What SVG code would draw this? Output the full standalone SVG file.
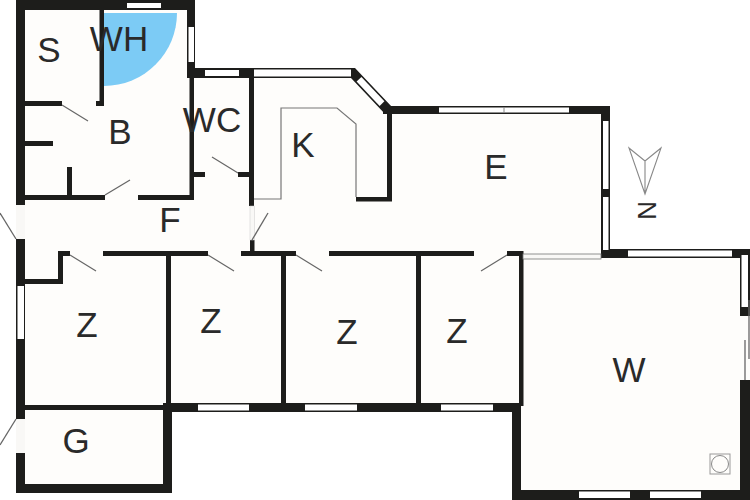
<svg xmlns="http://www.w3.org/2000/svg" width="750" height="500" viewBox="0 0 750 500">
<style>
.w{fill:#1d1d1b}
.g{fill:#fff}
.o{fill:#f9f8f6}
.d{fill:none;stroke:#666;stroke-width:1.3}
.t{fill:none;stroke:#777;stroke-width:1.2}
.l{font-family:"Liberation Sans",Arial,sans-serif;font-size:35px;fill:#2a2a2a;text-anchor:middle}
</style>
<rect width="750" height="500" fill="#fff"/>
<path d="M16 0H195V70H355L390 106H610V250H750V500H512V412H172V493H16Z" fill="#fefdfb"/>
<path d="M104 13H177A73 73 0 0 1 104 86Z" fill="#7ccbf5"/>
<g id="walls">
<rect class="w" x="16" y="0" width="179" height="10"/>
<rect class="w" x="16" y="0" width="9" height="205"/>
<rect class="w" x="16" y="239" width="9" height="180"/>
<rect class="w" x="16" y="453" width="9" height="40"/>
<rect class="w" x="16" y="484" width="156" height="9"/>
<rect class="w" x="163" y="405" width="9" height="88"/>
<rect class="w" x="25" y="405" width="140" height="5"/>
<rect class="w" x="163" y="403" width="357" height="9"/>
<rect class="w" x="512" y="406" width="9" height="94"/>
<rect class="w" x="512" y="490" width="238" height="10"/>
<rect class="w" x="740" y="380" width="10" height="120"/>
<rect class="w" x="740" y="249" width="10" height="67"/>
<rect class="w" x="601" y="249" width="149" height="9"/>
<rect class="w" x="601" y="106" width="9" height="152"/>
<rect class="w" x="383" y="106" width="227" height="8"/>
<rect class="w" x="519" y="251" width="4.500" height="155"/>
<rect class="w" x="507" y="251" width="16" height="5"/>
<rect class="w" x="187" y="0" width="8" height="78"/>
<rect class="w" x="187" y="68" width="67" height="10"/>
<rect class="w" x="189.500" y="78" width="4.500" height="122"/>
<rect class="w" x="25" y="195" width="80" height="5"/>
<rect class="w" x="138" y="195" width="56" height="5"/>
<rect class="w" x="99.500" y="10" width="4.500" height="96"/>
<rect class="w" x="96" y="101" width="8" height="5"/>
<rect class="w" x="25" y="101" width="37" height="5"/>
<rect class="w" x="25" y="141" width="28" height="5"/>
<rect class="w" x="67" y="167" width="5" height="28"/>
<rect class="w" x="194" y="172" width="11" height="5"/>
<rect class="w" x="238" y="172" width="11" height="5"/>
<rect class="w" x="249" y="68" width="5" height="138"/>
<rect class="w" x="250" y="240" width="4.500" height="14"/>
<rect class="w" x="241" y="251" width="55" height="5"/>
<rect class="w" x="58" y="251" width="12" height="5"/>
<rect class="w" x="103" y="251" width="105" height="5"/>
<rect class="w" x="329" y="251" width="145" height="5"/>
<rect class="w" x="58" y="251" width="5" height="33"/>
<rect class="w" x="25" y="279" width="38" height="5"/>
<rect class="w" x="166" y="256" width="5" height="149"/>
<rect class="w" x="281" y="256" width="5" height="149"/>
<rect class="w" x="416" y="256" width="5" height="149"/>
<rect class="w" x="387" y="108" width="5" height="93"/>
<rect class="w" x="356" y="197" width="36" height="4.500"/>
<path class="w" d="M252 68H355L392 107L385 114L351 78H252Z"/>
</g>
<g id="windows">
<rect class="g" x="127" y="3" width="34" height="5"/>
<rect class="g" x="188.500" y="27" width="5.500" height="35"/>
<rect class="g" x="205" y="70" width="34" height="6"/>
<rect class="g" x="254" y="69.500" width="97" height="7"/>
<path class="g" d="M361.400 77L356.600 81.600L379.600 105.900L384.400 101.300Z"/>
<rect class="g" x="439" y="107.500" width="130" height="5"/>
<rect class="g" x="603" y="121" width="5.500" height="68"/>
<rect class="g" x="603" y="197" width="5.500" height="53"/>
<rect class="g" x="628" y="250.500" width="104" height="6"/>
<rect class="g" x="741.500" y="255" width="6.500" height="52"/>
<rect class="g" x="198" y="404.500" width="51" height="6"/>
<rect class="g" x="305" y="404.500" width="52" height="6"/>
<rect class="g" x="441" y="404.500" width="52" height="6"/>
<rect class="g" x="579" y="491.500" width="51" height="6.500"/>
<rect class="g" x="650" y="491.500" width="51" height="6.500"/>
<rect class="g" x="17.500" y="286" width="6.500" height="53"/>
<rect class="o" x="523" y="254" width="78" height="5" stroke="#777" stroke-width="0.800"/>
<rect class="o" x="16" y="205" width="9" height="34"/>
<rect class="o" x="16" y="419" width="9" height="34"/>
<rect class="o" x="250" y="206" width="4.500" height="34" stroke="#ccc" stroke-width="0.500"/>
<path d="M504 107V113" stroke="#888" stroke-width="1"/>
</g>
<g id="fixtures">
<path class="t" d="M254 199H281V108H337L356 124V197"/>
<rect x="710" y="454" width="20" height="20" fill="none" stroke="#999" stroke-width="1"/>
<circle cx="720" cy="464" r="8.500" fill="none" stroke="#888" stroke-width="1"/>
</g>
<g id="doors">
<path class="d" d="M62 105L88 121"/>
<path class="d" d="M105 195L130 180"/>
<path class="d" d="M238 173L212 157"/>
<path class="d" d="M16 239L0 213"/>
<path class="d" d="M16 419L0 445"/>
<path class="d" d="M252 240L268 213"/>
<path class="d" d="M70 255L96 271"/>
<path class="d" d="M208 255L234 271"/>
<path class="d" d="M296 255L322 271"/>
<path class="d" d="M507 255L481 271"/>
<path class="d" d="M745 340V380"/>
<path class="d" d="M749 300V359"/>
</g>
<g id="compass">
<path d="M629 148L645 161L661 148L645 194ZM645 161V194" fill="none" stroke="#888" stroke-width="1.100"/>
<text class="l" transform="translate(638 210.500) rotate(90)" style="font-size:26px">N</text>
</g>
<g id="labels">
<text class="l" x="49" y="62">S</text>
<text class="l" x="119" y="51">WH</text>
<text class="l" x="120" y="144">B</text>
<text class="l" x="212" y="132">WC</text>
<text class="l" x="170" y="232">F</text>
<text class="l" x="303" y="157">K</text>
<text class="l" x="496" y="179">E</text>
<text class="l" x="629" y="382">W</text>
<text class="l" x="87" y="337">Z</text>
<text class="l" x="211" y="333">Z</text>
<text class="l" x="347" y="344">Z</text>
<text class="l" x="457" y="343">Z</text>
<text class="l" x="76" y="453">G</text>
</g>
</svg>
